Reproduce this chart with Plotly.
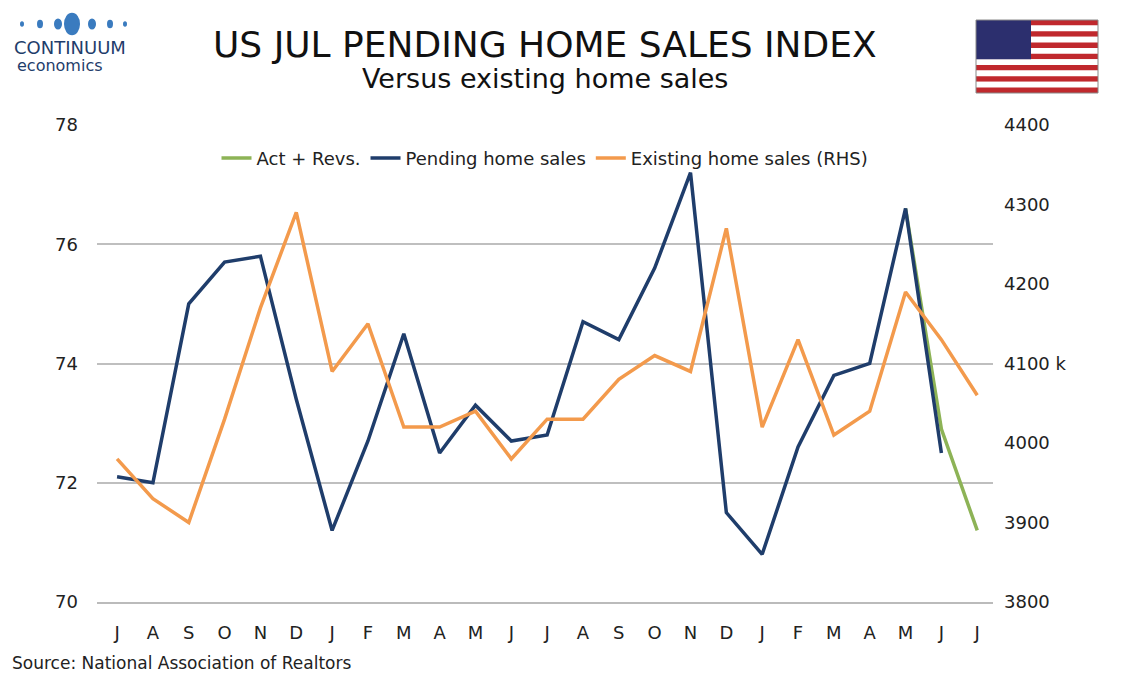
import plotly.graph_objects as go

months = ["J", "A", "S", "O", "N", "D", "J", "F", "M", "A", "M", "J",
          "J", "A", "S", "O", "N", "D", "J", "F", "M", "A", "M", "J", "J"]
pending = [72.1, 72.0, 75.0, 75.7, 75.8, 73.4, 71.2, 72.7, 74.5, 72.5, 73.3, 72.7,
           72.8, 74.7, 74.4, 75.6, 77.2, 71.5, 70.8, 72.6, 73.8, 74.0, 76.6, 72.5]
act_revs = [None] * 22 + [76.6, 72.9, 71.2]
existing = [3980, 3930, 3900, 4030, 4170, 4290, 4090, 4150, 4020, 4020, 4040, 3980,
            4030, 4030, 4080, 4110, 4090, 4270, 4020, 4130, 4010, 4040, 4190, 4130, 4060]
x = list(range(len(months)))

fig = go.Figure()
fig.add_trace(go.Scatter(x=x, y=act_revs, name="Act + Revs.", mode="lines",
                         line=dict(color="#8db356", width=3.5)))
fig.add_trace(go.Scatter(x=x[:len(pending)], y=pending, name="Pending home sales", mode="lines",
                         line=dict(color="#1f3d6b", width=3.5)))
fig.add_trace(go.Scatter(x=x, y=existing, name="Existing home sales (RHS)", mode="lines",
                         line=dict(color="#f39a4c", width=3.5), yaxis="y2"))

font = "DejaVu Sans"
fig.update_layout(
    width=1134, height=680, plot_bgcolor="white", paper_bgcolor="white",
    margin=dict(l=89, r=149, t=117, b=86),
    font=dict(family=font, size=18, color="#222"),
    showlegend=True,
    legend=dict(orientation="h", x=0.5, xanchor="center", y=0.93, yanchor="middle",
                font=dict(size=18), bgcolor="rgba(0,0,0,0)"),
    xaxis=dict(range=[-0.56, 24.44], tickmode="array", tickvals=x, ticktext=months,
               showgrid=False, showline=True, linecolor="#bbb", linewidth=1.5,
               ticks="", zeroline=False, automargin=False, ticklabelstandoff=14),
    yaxis=dict(range=[70, 78], dtick=2, showgrid=True, gridcolor="#bfbfbf", gridwidth=2,
               zeroline=False, ticks="", automargin=False, ticklabelstandoff=18),
    yaxis2=dict(range=[3800, 4400], overlaying="y", side="right", showgrid=False,
                tickmode="array", tickvals=[3800, 3900, 4000, 4100, 4200, 4300, 4400],
                ticktext=["3800", "3900", "4000", "4100 k", "4200", "4300", "4400"],
                zeroline=False, ticks="", automargin=False, ticklabelstandoff=10),
)

fig.add_annotation(text="US JUL PENDING HOME SALES INDEX", xref="paper", yref="paper",
                   x=0.5, y=1.0, yshift=103, showarrow=False, font=dict(size=36, color="#111"))
fig.add_annotation(text="Versus existing home sales", xref="paper", yref="paper",
                   x=0.5, y=1.0, yshift=64, showarrow=False, font=dict(size=27, color="#111"))
fig.add_annotation(text="Source: National Association of Realtors", xref="paper", yref="paper",
                   x=-0.097, xanchor="left", y=0, yshift=-73, showarrow=False, font=dict(size=17))

# logo
fig.add_annotation(text="CONTINUUM", xref="paper", yref="paper", x=-0.095, xanchor="left",
                   y=1.0, yshift=90, showarrow=False, font=dict(size=18, color="#1f3d6b"))
fig.add_annotation(text="economics", xref="paper", yref="paper", x=-0.091, xanchor="left",
                   y=1.0, yshift=71, showarrow=False, font=dict(size=16, color="#1f3d6b"))

def px(v): return (v - 97) / 896
def py(v): return (602 - v) / 477

for dx, r in [(22, 2), (40, 3), (58, 4), (72, 8), (92, 4), (110, 3), (125, 2)]:
    fig.add_shape(type="circle", xref="paper", yref="paper",
                  x0=px(dx - r), x1=px(dx + r), y0=py(24 + r * 1.4), y1=py(24 - r * 1.4),
                  fillcolor="#3a7bbf", line_width=0)

# flag
fx0, fx1, fy0, fy1 = 976, 1098, 20, 93
sh = (fy1 - fy0) / 13
for k in range(13):
    fig.add_shape(type="rect", xref="paper", yref="paper", x0=px(fx0), x1=px(fx1),
                  y0=py(fy0 + (k + 1) * sh), y1=py(fy0 + k * sh),
                  fillcolor="#c0282d" if k % 2 == 0 else "white", line_width=0)
fig.add_shape(type="rect", xref="paper", yref="paper", x0=px(fx0), x1=px(fx0 + 55),
              y0=py(fy0 + 7 * sh), y1=py(fy0), fillcolor="#2c2f6e", line_width=0)
fig.add_shape(type="rect", xref="paper", yref="paper", x0=px(fx0), x1=px(fx1),
              y0=py(fy1), y1=py(fy0), line=dict(color="#888", width=1))

fig.write_html("out.html")
